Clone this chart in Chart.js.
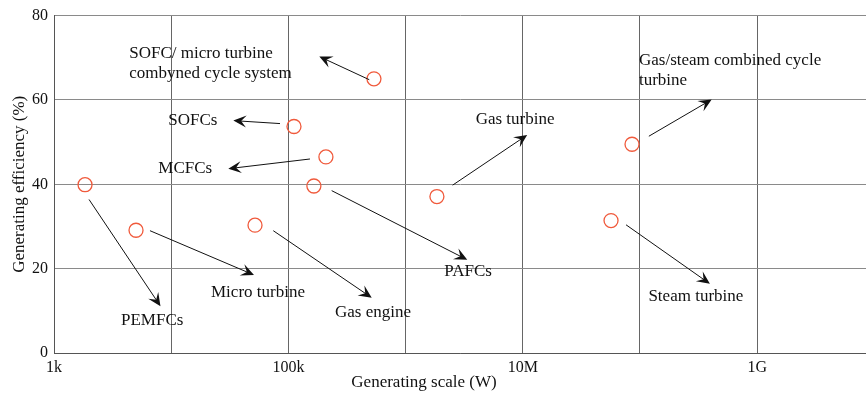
<!DOCTYPE html>
<html>
<head>
<meta charset="utf-8">
<script src="https://cdn.jsdelivr.net/npm/chart.js@4"></script>
<style>
  html, body { margin: 0; padding: 0; background: #fff; }
  #wrap { width: 866px; height: 398px; }
</style>
</head>
<body>
<div id="wrap"><canvas id="chart" width="866" height="398"></canvas></div>
<script>
// generating scale (W) vs efficiency (%) for each technology
const scaleW = [1840, 5010, 51900, 111600, 209000, 165000, 537000, 1.85e6, 5.66e7, 8.55e7];
const efficiency = [39.9, 29.1, 30.3, 53.7, 46.5, 39.6, 65.0, 37.1, 31.4, 49.5];

const xDecades = [1e3, 1e4, 1e5, 1e6, 1e7, 1e8, 1e9];
const xTickLabels = ['1k', '', '100k', '', '10M', '', '1G'];
const yTicks = [0, 20, 40, 60, 80];

// arrows: start -> end, in data units
const arrowFromX = [1990, 6590, 74300, 234000, 2.52e6, 490000, 7.6e7, 1.19e8, 84800, 152800];
const arrowFromY = [36.4, 29.0, 29.0, 38.5, 39.8, 64.8, 30.4, 51.4, 54.4, 46.0];
const arrowToX = [8100, 50860, 514000, 3.36e6, 1.09e7, 183600, 3.95e8, 4.09e8, 33900, 30700];
const arrowToY = [11.1, 18.5, 13.1, 22.1, 51.7, 70.3, 16.4, 60.1, 55.1, 43.7];

// labels: text lines anchored at left edge / middle of first line
const labelText = [
    ['SOFC/ micro turbine', 'combyned cycle system'],
    ['SOFCs'],
    ['MCFCs'],
    ['Gas turbine'],
    ['Gas/steam combined cycle', 'turbine'],
    ['PEMFCs'],
    ['Micro turbine'],
    ['Gas engine'],
    ['PAFCs'],
    ['Steam turbine']
];
const labelX = [4390, 9450, 7760, 3.96e6, 9.8e7, 3730, 21860, 250000, 2.14e6, 1.18e8];
const labelY = [70.9, 55.1, 43.7, 55.4, 69.4, 7.7, 14.4, 9.5, 19.3, 13.4];

const FONT = '"Liberation Serif", "Times New Roman", serif';

const annotations = {
    id: 'annotations',
    afterDatasetsDraw(chart) {
        const { ctx, scales: { x, y } } = chart;
        ctx.save();

        // arrows
        ctx.strokeStyle = '#111';
        ctx.fillStyle = '#111';
        ctx.lineWidth = 1;
        for (let i = 0; i < arrowFromX.length; i++) {
            const x0 = x.getPixelForValue(arrowFromX[i]);
            const y0 = y.getPixelForValue(arrowFromY[i]);
            const x1 = x.getPixelForValue(arrowToX[i]);
            const y1 = y.getPixelForValue(arrowToY[i]);
            const len = Math.hypot(x1 - x0, y1 - y0);
            const ux = (x1 - x0) / len, uy = (y1 - y0) / len;
            const px = -uy, py = ux;
            const L = 13, W = 6;

            ctx.beginPath();
            ctx.moveTo(x0, y0);
            ctx.lineTo(x1 - ux * 6, y1 - uy * 6);
            ctx.stroke();

            ctx.beginPath();
            ctx.moveTo(x1, y1);
            ctx.lineTo(x1 - ux * L + px * W, y1 - uy * L + py * W);
            ctx.lineTo(x1 - ux * L * 0.6, y1 - uy * L * 0.6);
            ctx.lineTo(x1 - ux * L - px * W, y1 - uy * L - py * W);
            ctx.closePath();
            ctx.fill();
        }

        // labels
        ctx.font = '17px ' + FONT;
        ctx.fillStyle = '#111';
        ctx.textAlign = 'left';
        ctx.textBaseline = 'middle';
        for (let i = 0; i < labelText.length; i++) {
            const lx = x.getPixelForValue(labelX[i]);
            const ly = y.getPixelForValue(labelY[i]);
            labelText[i].forEach((line, k) => ctx.fillText(line, lx, ly + k * 20));
        }

        // x axis title (offset left of plot centre, as in the source figure)
        ctx.textAlign = 'center';
        ctx.fillText('Generating scale (W)', 424, 383);
        ctx.restore();
    }
};

const chart = new Chart(document.getElementById('chart'), {
    type: 'scatter',
    data: {
        datasets: [{
            data: scaleW.map((v, i) => ({ x: v, y: efficiency[i] })),
            pointStyle: 'circle',
            pointRadius: 7,
            pointHoverRadius: 7,
            borderColor: '#f05a3c',
            borderWidth: 1.3,
            backgroundColor: 'rgba(0,0,0,0)'
        }]
    },
    options: {
        responsive: false,
        animation: false,
        layout: { autoPadding: false, padding: { top: 12, right: 0, left: 0, bottom: 0 } },
        plugins: {
            legend: { display: false },
            tooltip: { enabled: false }
        },
        scales: {
            x: {
                type: 'logarithmic',
                min: 1000,
                max: 8.48e9,
                afterBuildTicks: (scale) => {
                    scale.ticks = xDecades.map(v => ({ value: v }));
                },
                afterFit: (scale) => {
                    scale.height = 45;
                    scale.paddingLeft = 0;
                    scale.paddingRight = 0;
                },
                ticks: {
                    autoSkip: false,
                    maxRotation: 0,
                    padding: 5,
                    color: '#111',
                    font: { family: FONT, size: 16 },
                    callback: (value) => {
                        const idx = xDecades.findIndex(d => Math.abs(Math.log10(d) - Math.log10(value)) < 1e-6);
                        return idx >= 0 ? xTickLabels[idx] : '';
                    }
                },
                grid: { color: '#666', lineWidth: 1, drawTicks: false },
                border: { color: '#555', width: 1 }
            },
            y: {
                min: 0,
                max: 80,
                afterBuildTicks: (scale) => {
                    scale.ticks = yTicks.map(v => ({ value: v }));
                },
                afterFit: (scale) => { scale.width = 54; },
                ticks: {
                    padding: 6,
                    color: '#111',
                    font: { family: FONT, size: 16 }
                },
                grid: { color: '#8a8a8a', lineWidth: 1, drawTicks: false },
                border: { color: '#555', width: 1 },
                title: {
                    display: true,
                    text: 'Generating efficiency (%)',
                    color: '#111',
                    font: { family: FONT, size: 17 },
                    padding: { top: 9, bottom: 0 }
                }
            }
        }
    },
    plugins: [annotations]
});
</script>
</body>
</html>
